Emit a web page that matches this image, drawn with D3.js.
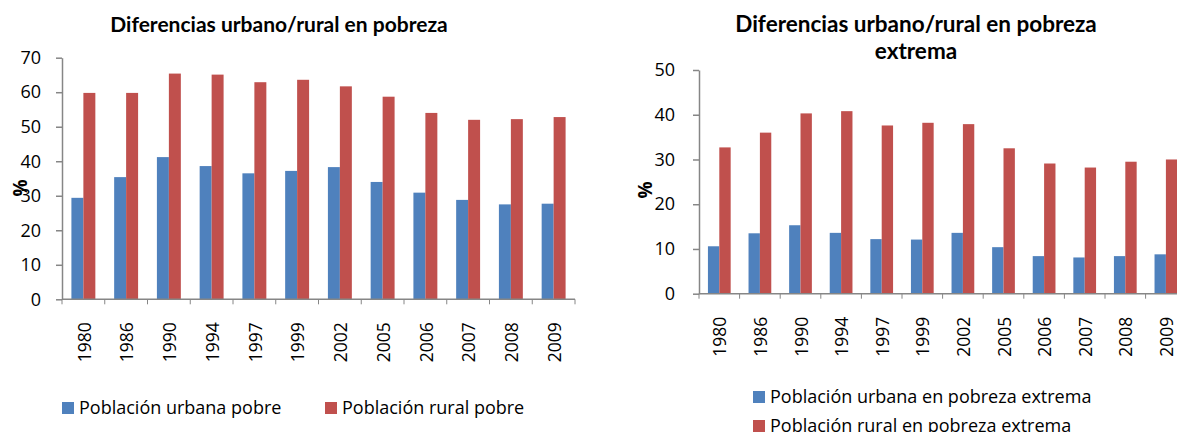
<!DOCTYPE html>
<html>
<head>
<meta charset="utf-8">
<script src="https://cdn.jsdelivr.net/npm/d3@7"></script>
<style>
  body { margin: 0; background: #fff; }
  text { font-family: "Open Sans", "Noto Sans", sans-serif; fill: #000; }
  .title { font-family: Lato, "Open Sans", sans-serif; }
</style>
</head>
<body>
<div id="chart"></div>
<script>
// data
const years = ["1980","1986","1990","1994","1997","1999","2002","2005","2006","2007","2008","2009"];

const urbanPoor = [29.4, 35.4, 41.2, 38.6, 36.5, 37.2, 38.3, 34.0, 30.9, 28.8, 27.5, 27.7];
const ruralPoor = [59.8, 59.8, 65.4, 65.1, 62.9, 63.6, 61.7, 58.7, 54.0, 52.0, 52.2, 52.8];

const urbanExtreme = [10.6, 13.5, 15.3, 13.6, 12.2, 12.1, 13.6, 10.4, 8.4, 8.1, 8.4, 8.8];
const ruralExtreme = [32.7, 36.0, 40.3, 40.8, 37.6, 38.2, 37.9, 32.5, 29.1, 28.2, 29.5, 30.0];

const ticksLeft = [0, 10, 20, 30, 40, 50, 60, 70];
const ticksRight = [0, 10, 20, 30, 40, 50];

const blue = "#4F81BD", red = "#C0504D", axisGrey = "#868686";

const svg = d3.select("#chart")
  .append("svg")
    .attr("width", 1177)
    .attr("height", 432);

function drawChart(opt) {
  const g = svg.append("g");

  const x0 = d3.scaleBand()
    .domain(years)
    .range([opt.x0, opt.x1])
    .paddingInner(0.44)
    .paddingOuter(0.22);
  const x1 = d3.scaleBand()
    .domain([0, 1])
    .range([0, x0.bandwidth()]);
  const y = d3.scaleLinear()
    .domain([0, opt.max])
    .range([opt.y0, opt.y1]);

  // bars
  const rows = years.map((yr, i) => ({year: yr, vals: [opt.a[i], opt.b[i]]}));
  g.append("g")
    .selectAll("g")
    .data(rows)
    .join("g")
      .attr("transform", d => `translate(${x0(d.year)},0)`)
    .selectAll("rect")
    .data(d => d.vals)
    .join("rect")
      .attr("x", (d, j) => x1(j))
      .attr("width", x1.bandwidth())
      .attr("y", d => y(d))
      .attr("height", d => y(0) - y(d))
      .attr("fill", (d, j) => j === 0 ? blue : red);

  // y axis
  const yAxis = g.append("g")
    .attr("transform", `translate(${opt.x0},0)`)
    .call(d3.axisLeft(y).tickValues(opt.ticks).tickSize(6).tickSizeOuter(0).tickPadding(opt.tickPad));
  yAxis.select(".domain").attr("stroke", axisGrey).attr("stroke-width", 1.5);
  yAxis.selectAll(".tick line").attr("stroke", axisGrey).attr("stroke-width", 1.5);
  yAxis.selectAll(".tick text").attr("font-size", 18).attr("fill", "#000")
    .style("font-family", "'Open Sans', sans-serif");

  // x axis: line, ticks between categories
  const step = x0.step();
  g.append("line")
    .attr("x1", opt.x0).attr("x2", opt.x1)
    .attr("y1", y(0)).attr("y2", y(0))
    .attr("stroke", axisGrey).attr("stroke-width", 1.5);
  g.append("g")
    .selectAll("line")
    .data(d3.range(years.length + 1))
    .join("line")
      .attr("x1", i => opt.x0 + i * step)
      .attr("x2", i => opt.x0 + i * step)
      .attr("y1", y(0))
      .attr("y2", y(0) + 5)
      .attr("stroke", axisGrey);

  g.append("g")
    .selectAll("text")
    .data(years)
    .join("text")
      .attr("transform", d => `translate(${x0(d) + x0.bandwidth() / 2 + 1},${y(0) + 23}) rotate(-90)`)
      .attr("text-anchor", "end")
      .attr("dy", "0.35em")
      .attr("font-size", 17.5)
      .text(d => d);

  // y label
  g.append("text")
    .attr("transform", `translate(${opt.labelX},${opt.labelY}) rotate(-90)`)
    .attr("text-anchor", "middle")
    .attr("dy", "0.35em")
    .attr("font-size", 19)
    .attr("font-weight", "bold")
    .text("%");

  // title
  const t = g.append("text")
    .attr("class", "title")
    .attr("x", opt.titleX)
    .attr("y", 32)
    .attr("text-anchor", "middle")
    .attr("font-size", opt.titleSize)
    .attr("font-weight", "bold");
  opt.title.forEach((line, i) => {
    t.append("tspan").attr("x", opt.titleX).attr("dy", i === 0 ? 0 : 27).text(line);
  });

  // legend
  const leg = g.append("g")
    .selectAll("g")
    .data(opt.legend)
    .join("g")
      .attr("transform", d => `translate(${d.x},${d.y})`);
  leg.append("rect")
    .attr("x", 0).attr("y", -12)
    .attr("width", 12).attr("height", 12)
    .attr("fill", d => d.color);
  leg.append("text")
    .attr("x", 17)
    .attr("y", 0)
    .attr("font-size", 18)
    .text(d => d.label);
}

drawChart({
  a: urbanPoor, b: ruralPoor, max: 70, ticks: ticksLeft,
  x0: 62, x1: 575, y0: 299.3, y1: 57.7, tickPad: 15,
  labelX: 20, labelY: 188,
  titleX: 279, titleSize: 21,
  title: ["Diferencias urbano/rural en pobreza"],
  legend: [
    {label: "Población urbana pobre", color: blue, x: 62, y: 414},
    {label: "Población rural pobre", color: red, x: 325, y: 414}
  ]
});

drawChart({
  a: urbanExtreme, b: ruralExtreme, max: 50, ticks: ticksRight,
  x0: 699, x1: 1186.2, y0: 293.7, y1: 70, tickPad: 18,
  labelX: 645, labelY: 190,
  titleX: 916, titleSize: 22.5,
  title: ["Diferencias urbano/rural en pobreza", "extrema"],
  legend: [
    {label: "Población urbana en pobreza extrema", color: blue, x: 753, y: 403},
    {label: "Población rural en pobreza extrema", color: red, x: 753, y: 432}
  ]
});
</script>
</body>
</html>
